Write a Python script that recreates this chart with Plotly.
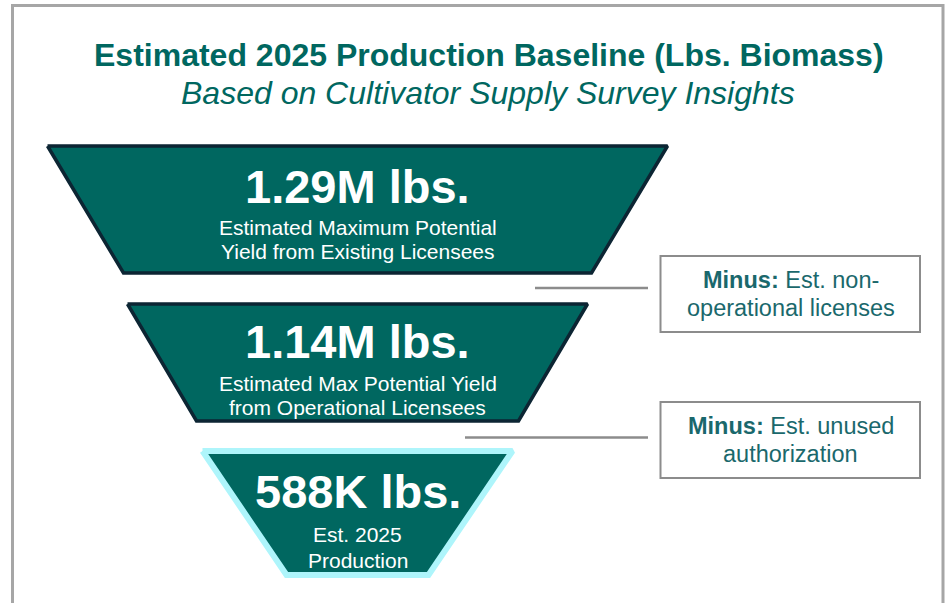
import plotly.graph_objects as go

# ---- data ----
stage_values = ["1.29M lbs.", "1.14M lbs.", "588K lbs."]
stage_desc_1 = ["Estimated Maximum Potential", "Estimated Max Potential Yield", "Est. 2025"]
stage_desc_2 = ["Yield from Existing Licensees", "from Operational Licensees", "Production"]
minus_bold = ["Minus:", "Minus:"]
minus_line1 = ["Est. non-", "Est. unused"]
minus_line2 = ["operational licenses", "authorization"]
title_text = "Estimated 2025 Production Baseline (Lbs. Biomass)"
subtitle_text = "Based on Cultivator Supply Survey Insights"

# ---- layout geometry (page-pixel coordinate system) ----
PAGE_W, PAGE_H = 950, 603
CX = 357.5
stage_top = [146, 304, 451]
stage_bot = [273, 421, 575]
stage_top_half = [310, 230, 155]
stage_bot_half = [234, 161, 71]
stage_line_color = ["#0c2533", "#0c2533", "#aef5fb"]
stage_line_width = [3.5, 3.5, 6]
big_y = [186.5, 341.5, 491.5]
d1_y = [227.5, 383.5, 534]
d2_y = [251, 407.5, 560]

TEAL = "#006760"
BOX_TEXT = "#1a686c"
GRAY = "#8c8c8c"
FONT = "Liberation Sans, Arial"

fig = go.Figure()

for i in range(3):
    t, b = stage_top[i], stage_bot[i]
    th, bh = stage_top_half[i], stage_bot_half[i]
    xs = [CX - th, CX + th, CX + bh, CX - bh, CX - th]
    ys = [t, t, b, b, t]
    fig.add_trace(go.Scatter(
        x=xs, y=ys, mode="lines", fill="toself", fillcolor=TEAL,
        line=dict(color=stage_line_color[i], width=stage_line_width[i]),
        hoverinfo="skip", showlegend=False))
    fig.add_annotation(x=CX, y=big_y[i], text="<b>%s</b>" % stage_values[i],
                       showarrow=False, xanchor="center", yanchor="middle",
                       font=dict(family=FONT, size=47, color="white"))
    fig.add_annotation(x=CX, y=d1_y[i], text=stage_desc_1[i],
                       showarrow=False, xanchor="center", yanchor="middle",
                       font=dict(family=FONT, size=21, color="white"))
    fig.add_annotation(x=CX, y=d2_y[i], text=stage_desc_2[i],
                       showarrow=False, xanchor="center", yanchor="middle",
                       font=dict(family=FONT, size=21, color="white"))

# connectors and boxes
conn_x0 = [535, 465]
conn_y = [288, 437.5]
box_y0 = [256, 402]
box_y1 = [332, 478]
box_x0, box_x1 = 660.5, 920
for i in range(2):
    fig.add_shape(type="line", x0=conn_x0[i], x1=648, y0=conn_y[i], y1=conn_y[i],
                  line=dict(color=GRAY, width=2.5), layer="above")
    fig.add_shape(type="rect", x0=box_x0, x1=box_x1, y0=box_y0[i], y1=box_y1[i],
                  line=dict(color=GRAY, width=2), fillcolor="white", layer="above")
    cy = (box_y0[i] + box_y1[i]) / 2
    fig.add_annotation(x=790.5, y=cy - 14.5,
                       text="<b>%s</b> %s" % (minus_bold[i], minus_line1[i]),
                       showarrow=False, xanchor="center", yanchor="middle",
                       font=dict(family=FONT, size=23.5, color=BOX_TEXT))
    fig.add_annotation(x=790.5, y=cy + 14,
                       text=minus_line2[i],
                       showarrow=False, xanchor="center", yanchor="middle",
                       font=dict(family=FONT, size=23.5, color=BOX_TEXT))

# frame
fig.add_shape(type="path", path="M 12.5 620 L 12.5 5.5 L 943 5.5 L 943 620",
              line=dict(color="#a6a6a6", width=3), layer="above")

# titles
fig.add_annotation(x=489, y=54.5, text="<b>%s</b>" % title_text, showarrow=False,
                   xanchor="center", yanchor="middle",
                   font=dict(family=FONT, size=32, color=TEAL))
fig.add_annotation(x=487.5, y=92.5, text="<i>%s</i>" % subtitle_text, showarrow=False,
                   xanchor="center", yanchor="middle",
                   font=dict(family=FONT, size=32, color=TEAL))

fig.update_layout(
    width=PAGE_W, height=PAGE_H,
    margin=dict(l=0, r=0, t=0, b=0),
    paper_bgcolor="white", plot_bgcolor="white",
    xaxis=dict(range=[0, PAGE_W], visible=False, fixedrange=True),
    yaxis=dict(range=[PAGE_H, 0], visible=False, fixedrange=True),
    showlegend=False,
)

fig.write_html("out.html", config={"displayModeBar": False},
               post_script="document.body.style.margin='0';document.body.style.overflow='hidden';")
